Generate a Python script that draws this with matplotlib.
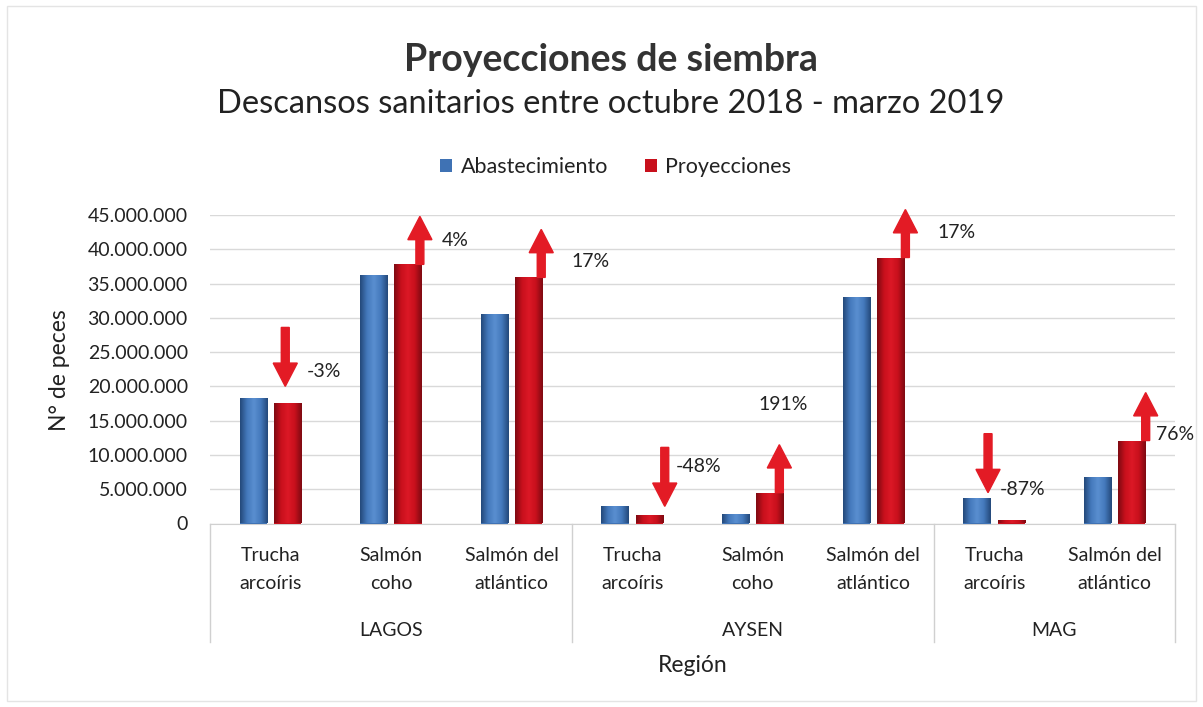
import matplotlib
matplotlib.use("Agg")
import matplotlib.pyplot as plt
import numpy as np
from matplotlib.colors import LinearSegmentedColormap
from matplotlib.patches import FancyArrow, Rectangle
import matplotlib.transforms as mtransforms
from matplotlib.ticker import FuncFormatter, MultipleLocator

# ---------------- data ----------------
species = ["Trucha\narcoíris", "Salmón\ncoho", "Salmón del\natlántico",
           "Trucha\narcoíris", "Salmón\ncoho", "Salmón del\natlántico",
           "Trucha\narcoíris", "Salmón del\natlántico"]
regions = ["LAGOS", "AYSEN", "MAG"]
region_sizes = [3, 3, 2]
abastecimiento = [18.25e6, 36.2e6, 30.5e6, 2.6e6, 1.45e6, 33.1e6, 3.7e6, 6.8e6]
proyecciones = [17.6e6, 37.8e6, 35.9e6, 1.3e6, 4.5e6, 38.8e6, 0.45e6, 12.1e6]
change_labels = ["-3%", "4%", "17%", "-48%", "191%", "17%", "-87%", "76%"]

# ---------------- layout (annotation placement) ----------------
arrow_dx = [0.124, 0.24, 0.246, 0.27, 0.22, 0.265, -0.05, 0.257]   # category units
down_gap = [1.75e6, 0, 0, -0.1e6, 0, 0, 0.8e6, 0]                    # tip above abast
label_off_px = [(21, 31), (22, 24), (30, 16), (11, 48), (-21, 88), (32, 25), (12, 31), (10, 6)]

W, H = 1203, 707
fig = plt.figure(figsize=(W / 100, H / 100), dpi=100)
FONT = ["Lato", "DejaVu Sans"]
plt.rcParams["font.family"] = FONT
TXT = "#222222"
FS = 14

ax_l, ax_r, ax_t, ax_b = 210, 1175, 215, 523.5
ax = fig.add_axes([ax_l / W, 1 - ax_b / H, (ax_r - ax_l) / W, (ax_b - ax_t) / H])

n = len(species)
x = np.arange(n)
bw = 0.225
off = 0.142
blue = "#3F72B4"
red = "#C8101C"

b1 = ax.bar(x - off, abastecimiento, bw, color=blue, label="Abastecimiento", zorder=3)
b2 = ax.bar(x + off, proyecciones, bw, color=red, label="Proyecciones", zorder=3)

ax.set_xlim(-0.5, n - 0.5)
ax.set_ylim(0, 45e6)

cm_blue = LinearSegmentedColormap.from_list("b", ["#24497A", "#4479BC", "#5A8FD0", "#4479BC", "#24497A"])
cm_red = LinearSegmentedColormap.from_list("r", ["#7E0A12", "#C8101C", "#DC1826", "#C8101C", "#7E0A12"])
grad = np.linspace(0, 1, 64).reshape(1, -1)
for cont, cm in ((b1, cm_blue), (b2, cm_red)):
    for p in cont:
        x0, y0 = p.get_x(), p.get_y()
        w, h = p.get_width(), p.get_height()
        im = ax.imshow(grad, cmap=cm, extent=(x0, x0 + w, y0, y0 + h), aspect="auto",
                       zorder=3.5, interpolation="bicubic")
        im.set_clip_path(p)
ax.set_xlim(-0.5, n - 0.5)
ax.set_ylim(0, 45e6)

# grid & spines
ax.yaxis.set_major_locator(MultipleLocator(5e6))
ax.yaxis.set_major_formatter(FuncFormatter(lambda v, p: f"{int(v):,}".replace(",", ".")))
ax.grid(axis="y", color="#D9D9D9", lw=1, zorder=0)
for s in ["top", "right", "left"]:
    ax.spines[s].set_visible(False)
ax.spines["bottom"].set_color("#D0D0D0")
ax.tick_params(axis="y", length=0, labelsize=FS, labelcolor=TXT, pad=16)
ax.set_xticks(x)
ax.set_xticklabels(species, fontsize=FS, color=TXT, linespacing=1.75)
ax.tick_params(axis="x", length=0, pad=17)

# region separators & labels
trans = mtransforms.blended_transform_factory(ax.transData, ax.transAxes)
bounds = np.concatenate([[0], np.cumsum(region_sizes)]) - 0.5
for bx in bounds:
    ax.plot([bx, bx], [0, -0.383], transform=trans, color="#D0D0D0", lw=1, clip_on=False)
for i, r in enumerate(regions):
    cx = (bounds[i] + bounds[i + 1]) / 2
    ax.text(cx, (ax_b - 630) / (ax_b - ax_t), r, transform=trans, ha="center", va="center",
            fontsize=FS, color=TXT)
ax.text(0.5 * (n - 1), (ax_b - 665) / (ax_b - ax_t), "Región", transform=trans,
        ha="center", va="center", fontsize=16.5, color=TXT)
fig.text(60 / W, 1 - 370 / H, "N° de peces", rotation=90, ha="center", va="center",
         fontsize=16.5, color=TXT)

# arrows
arrow_red = "#E31B25"
shaft_w = 0.066
head_w = 0.2
head_len = 3.4e6
up_len = 7.0e6
down_len = 8.6e6
for i in range(n):
    ax_x = x[i] + arrow_dx[i]
    if proyecciones[i] >= abastecimiento[i]:
        base = proyecciones[i]
        a = FancyArrow(ax_x, base, 0, up_len, width=shaft_w, head_width=head_w,
                       head_length=head_len, length_includes_head=True,
                       color=arrow_red, zorder=5, clip_on=False)
    else:
        tip = abastecimiento[i] + down_gap[i]
        a = FancyArrow(ax_x, tip + down_len, 0, -down_len, width=shaft_w, head_width=head_w,
                       head_length=head_len, length_includes_head=True,
                       color=arrow_red, zorder=5, clip_on=False)
    ax.add_patch(a)
    dxp, dyp = label_off_px[i]
    ax.annotate(change_labels[i], xy=(ax_x, proyecciones[i]), xytext=(dxp * 0.72, dyp * 0.72),
                textcoords="offset points", ha="left", va="center", fontsize=FS,
                color=TXT, zorder=6)

# legend
leg = fig.legend(handles=[b1, b2], loc="center", bbox_to_anchor=(0.512, 1 - 167 / H), ncol=2,
                 frameon=False, fontsize=15.5, handlelength=0.55, handleheight=0.55,
                 handletextpad=0.4, columnspacing=1.7, labelcolor=TXT)

# titles
fig.text(0.508, 1 - 60 / H, "Proyecciones de siembra", ha="center", va="center",
         fontsize=27, fontweight="bold", color="#333333")
fig.text(0.508, 1 - 104 / H, "Descansos sanitarios entre octubre 2018 - marzo 2019",
         ha="center", va="center", fontsize=23.5, color=TXT)

# faint chart border
fig.patches.append(Rectangle((7 / W, 6 / H), 1 - 14 / W, 1 - 12 / H, transform=fig.transFigure,
                             fill=False, ec="#E4E4E4", lw=1))

fig.savefig("out.png", dpi=100, facecolor="white")
